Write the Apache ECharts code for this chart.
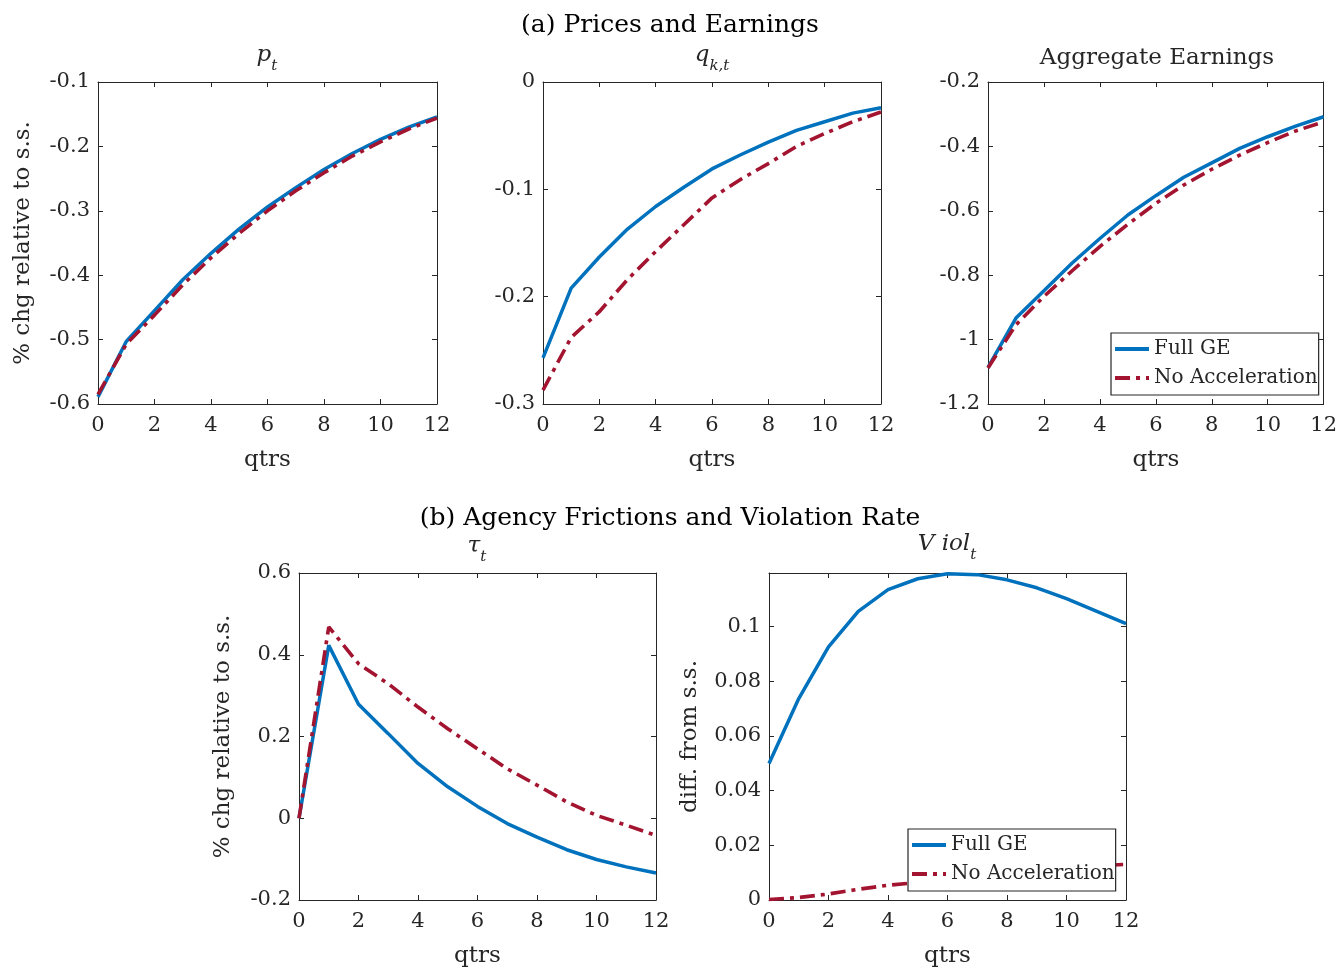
<!DOCTYPE html>
<html>
<head>
<meta charset="utf-8">
<script src="https://cdn.jsdelivr.net/npm/echarts@6/dist/echarts.min.js"></script>
<style>
  html, body { margin: 0; padding: 0; background: #ffffff; }
  #chart { width: 1340px; height: 969px; }
</style>
</head>
<body>
<div id="chart"></div>
<script>
// Impulse responses over 12 quarters
const qtrs = [0, 1, 2, 3, 4, 5, 6, 7, 8, 9, 10, 11, 12];

// (a) Prices and earnings, % change relative to steady state
const pFull   = [-0.589, -0.503, -0.455, -0.407, -0.366, -0.328, -0.294, -0.264, -0.236, -0.211, -0.189, -0.170, -0.154];
const pNoAcc  = [-0.585, -0.507, -0.462, -0.415, -0.373, -0.335, -0.300, -0.269, -0.241, -0.215, -0.193, -0.173, -0.156];
const qkFull  = [-0.257, -0.192, -0.163, -0.137, -0.116, -0.098, -0.081, -0.068, -0.056, -0.045, -0.037, -0.029, -0.024];
const qkNoAcc = [-0.287, -0.238, -0.214, -0.184, -0.158, -0.133, -0.108, -0.091, -0.076, -0.060, -0.048, -0.037, -0.028];
const earnFull  = [-1.086, -0.933, -0.848, -0.763, -0.686, -0.613, -0.553, -0.496, -0.451, -0.406, -0.370, -0.337, -0.308];
const earnNoAcc = [-1.088, -0.954, -0.866, -0.787, -0.711, -0.642, -0.577, -0.520, -0.471, -0.427, -0.388, -0.352, -0.324];

// (b) Agency frictions and violation rate
const tauFull   = [0, 0.423, 0.279, 0.207, 0.134, 0.077, 0.029, -0.013, -0.046, -0.077, -0.101, -0.119, -0.134];
const tauNoAcc  = [0, 0.468, 0.378, 0.329, 0.272, 0.219, 0.170, 0.121, 0.081, 0.040, 0.007, -0.017, -0.042];
const violFull  = [0.0499, 0.0736, 0.0925, 0.1055, 0.1134, 0.1174, 0.1192, 0.1189, 0.1170, 0.1141, 0.1101, 0.1056, 0.1010];
const violNoAcc = [0.0002, 0.0009, 0.0022, 0.0039, 0.0054, 0.0064, 0.0075, 0.0087, 0.0098, 0.0108, 0.0117, 0.0125, 0.0130];

// Axis ranges per panel: [min, max, interval]
const yRanges = [
  [-0.6, -0.1, 0.1],
  [-0.3, 0, 0.1],
  [-1.2, -0.2, 0.2],
  [-0.2, 0.6, 0.2],
  [0, 0.1195, 0.02]
];
const seriesNames = ['Full GE', 'No Acceleration'];

const FONT = 'DejaVu Serif';
const BLUE = '#0072BD';
const RED = '#A2142F';
const AXIS = '#262626';

const grids = [
  { left: 98,  top: 82,  width: 339, height: 322 },
  { left: 543, top: 82,  width: 338, height: 322 },
  { left: 988, top: 82,  width: 338, height: 322 },
  { left: 299, top: 573, width: 357, height: 327 },
  { left: 769, top: 573, width: 357, height: 327 }
];

const panelData = [
  [pFull, pNoAcc],
  [qkFull, qkNoAcc],
  [earnFull, earnNoAcc],
  [tauFull, tauNoAcc],
  [violFull, violNoAcc]
];

const yNames = ['% chg relative to s.s.', '', '', '% chg relative to s.s.', 'diff. from s.s.'];
const yNameGaps = [63, 0, 0, 64, 67];

const lineCommon = { show: true, onZero: false, lineStyle: { color: AXIS, width: 1 } };
const tickCommon = { show: true, inside: true, length: 5, lineStyle: { color: AXIS, width: 1 } };

const xAxes = [];
const yAxes = [];
grids.forEach((g, i) => {
  xAxes.push({
    type: 'value', gridIndex: i, min: 0, max: 12, interval: 2, position: 'bottom',
    axisLine: lineCommon, axisTick: tickCommon, splitLine: { show: false },
    axisLabel: { color: '#262626', fontFamily: FONT, fontSize: 21, margin: 11 },
    name: 'qtrs', nameLocation: 'middle', nameGap: 45,
    nameTextStyle: { color: '#262626', fontFamily: FONT, fontSize: 23 }
  });
});
grids.forEach((g, i) => {
  xAxes.push({
    type: 'value', gridIndex: i, min: 0, max: 12, interval: 2, position: 'top',
    axisLine: lineCommon, axisTick: tickCommon, splitLine: { show: false },
    axisLabel: { show: false }
  });
});
grids.forEach((g, i) => {
  const r = yRanges[i];
  yAxes.push({
    type: 'value', gridIndex: i, min: r[0], max: r[1], interval: r[2], position: 'left',
    axisLine: lineCommon, axisTick: tickCommon, splitLine: { show: false },
    axisLabel: {
      color: '#262626', fontFamily: FONT, fontSize: 21, margin: 8,
      showMaxLabel: i !== 4,
      formatter: v => String(Math.round(v * 1000) / 1000)
    },
    name: yNames[i], nameLocation: 'middle', nameRotate: 90, nameGap: yNameGaps[i],
    nameTextStyle: { color: '#262626', fontFamily: FONT, fontSize: 23 }
  });
});
grids.forEach((g, i) => {
  const r = yRanges[i];
  yAxes.push({
    type: 'value', gridIndex: i, min: r[0], max: r[1], interval: r[2], position: 'right',
    axisLine: lineCommon, axisTick: tickCommon, splitLine: { show: false },
    axisLabel: { show: false }
  });
});

const series = [];
panelData.forEach((pair, i) => {
  series.push({
    name: seriesNames[0], type: 'line', xAxisIndex: i, yAxisIndex: i,
    symbol: 'none', silent: true, z: 2,
    lineStyle: { color: BLUE, width: 3.5 }, itemStyle: { color: BLUE },
    data: qtrs.map((q, k) => [q, pair[0][k]])
  });
  series.push({
    name: seriesNames[1], type: 'line', xAxisIndex: i, yAxisIndex: i,
    symbol: 'none', silent: true, z: 3,
    lineStyle: { color: RED, width: 3.6, type: [15, 6, 4, 6] }, itemStyle: { color: RED },
    data: qtrs.map((q, k) => [q, pair[1][k]])
  });
});

const titleText = { fontFamily: FONT, color: '#000', fontWeight: 'normal' };
const mathRich = {
  i: { fontFamily: FONT, fontStyle: 'italic', fontSize: 23, color: '#262626', lineHeight: 30, verticalAlign: 'top' },
  s: { fontFamily: FONT, fontStyle: 'italic', fontSize: 15, color: '#262626', lineHeight: 30, verticalAlign: 'bottom' },
  n: { fontFamily: FONT, fontSize: 23, color: '#262626', lineHeight: 30 }
};

function subTitle(text, cx, top) {
  return {
    text: text, left: cx, top: top, textAlign: 'center', padding: 0,
    textStyle: Object.assign({}, titleText, { fontSize: 23, rich: mathRich })
  };
}

function legendBox(left, top) {
  return {
    data: seriesNames, orient: 'vertical', left: left, top: top,
    itemWidth: 34, itemHeight: 14, itemGap: 9, padding: [6, 1, 7, 2],
    borderColor: '#262626', borderWidth: 1.2, backgroundColor: '#ffffff',
    itemStyle: { opacity: 0 },
    lineStyle: { width: 4 },
    textStyle: { fontFamily: FONT, fontSize: 20, color: '#262626' },
    selectedMode: false
  };
}

const option = {
  backgroundColor: '#ffffff',
  animation: false,
  title: [
    { text: '(a) Prices and Earnings', left: 'center', top: 13, padding: 0,
      textStyle: Object.assign({}, titleText, { fontSize: 25 }) },
    { text: '(b) Agency Frictions and Violation Rate', left: 'center', top: 506, padding: 0,
      textStyle: Object.assign({}, titleText, { fontSize: 25 }) },
    subTitle('{i|p}{s|t}', 267, 44),
    subTitle('{i|q}{s|k,t}', 712, 44),
    subTitle('{n|Aggregate Earnings}', 1157, 43),
    subTitle('{i|τ}{s|t}', 477, 535),
    subTitle('{i|V iol}{s|t}', 947, 533)
  ],
  legend: [legendBox(1111, 333), legendBox(908, 829)],
  grid: grids,
  xAxis: xAxes,
  yAxis: yAxes,
  series: series
};

const chart = echarts.init(document.getElementById('chart'), null, { renderer: 'canvas' });
chart.setOption(option);
</script>
</body>
</html>
